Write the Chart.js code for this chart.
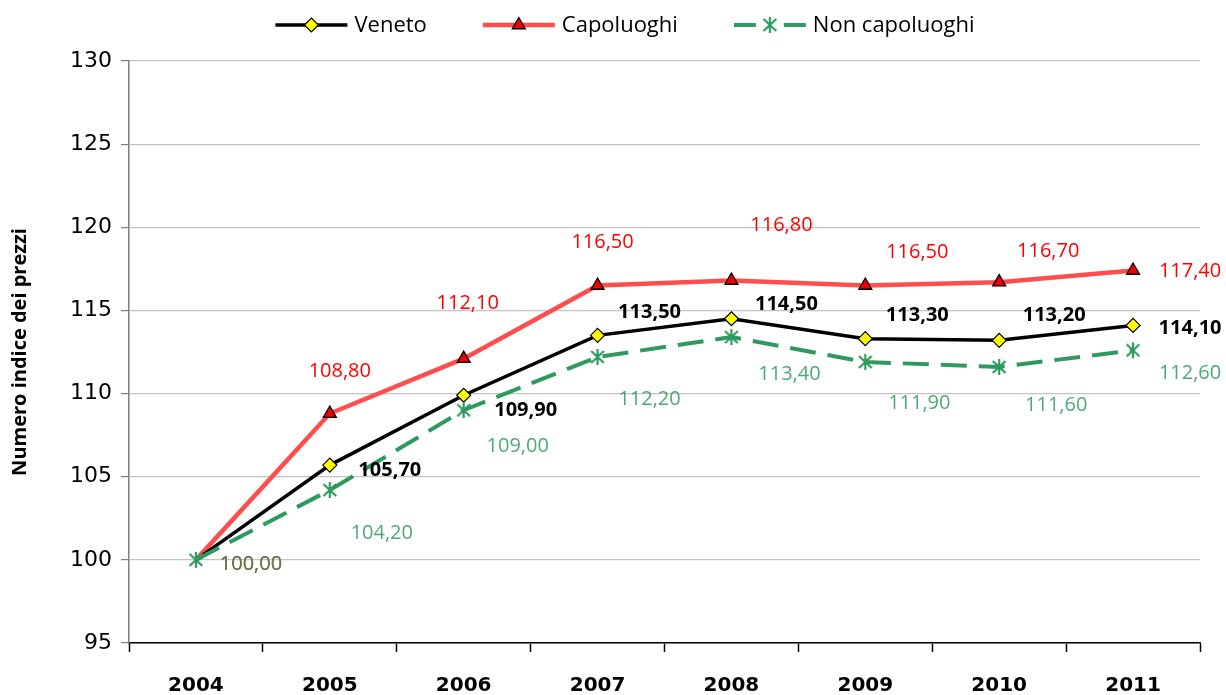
<!DOCTYPE html>
<html>
<head>
<meta charset="utf-8">
<script src="https://cdn.jsdelivr.net/npm/chart.js@4/dist/chart.umd.min.js"></script>
<style>
  html, body { margin: 0; padding: 0; background: #fff; }
  #wrap { width: 1226px; height: 695px; }
</style>
</head>
<body>
<div id="wrap"><canvas id="priceChart" width="1226" height="695"></canvas></div>
<script>
// chart data
const years = ['2004', '2005', '2006', '2007', '2008', '2009', '2010', '2011'];
const veneto = [100.0, 105.7, 109.9, 113.5, 114.5, 113.3, 113.2, 114.1];
const capoluoghi = [100.0, 108.8, 112.1, 116.5, 116.8, 116.5, 116.7, 117.4];
const nonCapoluoghi = [100.0, 104.2, 109.0, 112.2, 113.4, 111.9, 111.6, 112.6];
const yTicks = [95, 100, 105, 110, 115, 120, 125, 130];

// where each value label sits relative to its point (dx, dy), as placed in the original
const venetoLabelPos = [null, [60, 5], [62, 15], [52, -23], [55, -14], [52, -23], [55, -25], [57, 3]];
const capoLabelPos = [[55, 4], [10, -42], [4, -55], [5, -43], [50, -55], [52, -33], [49, -31], [57, 1]];
const nonCapoLabelPos = [[55, 4], [52, 43], [54, 36], [52, 42], [58, 37], [54, 41], [57, 38], [57, 23]];

const GREEN = '#2f9a5f';
const RED_LINE = '#ff4d4d';

const fmt = v => v.toFixed(2).replace('.', ',');

// asterisk marker (vertical bar + x) used for "Non capoluoghi"
function makeAsterisk(color, size) {
    const c = document.createElement('canvas');
    c.width = size;
    c.height = size;
    const g = c.getContext('2d');
    const m = size / 2, r = size / 2 - 1;
    g.strokeStyle = color;
    g.lineWidth = 2.2;
    g.beginPath();
    g.moveTo(m, m - r); g.lineTo(m, m + r);
    g.moveTo(m - r * 0.8, m - r * 0.75); g.lineTo(m + r * 0.8, m + r * 0.75);
    g.moveTo(m + r * 0.8, m - r * 0.75); g.lineTo(m - r * 0.8, m + r * 0.75);
    g.stroke();
    return c;
}
const asterisk = makeAsterisk(GREEN, 18);

// in the original the 2004 point only shows the green marker
const hideFirst = r => (c => c.dataIndex === 0 ? 0 : r);

// value labels drawn next to points
const valueLabels = {
    id: 'valueLabels',
    afterDatasetsDraw(chart) {
        const ctx = chart.ctx;
        ctx.save();
        ctx.textAlign = 'center';
        ctx.textBaseline = 'middle';
        chart.data.datasets.forEach((ds, di) => {
            const meta = chart.getDatasetMeta(di);
            meta.data.forEach((pt, i) => {
                const off = ds.labelPos[i];
                if (!off) return;
                ctx.font = ds.labelFont;
                ctx.fillStyle = ds.labelColor;
                ctx.fillText(fmt(ds.data[i]), pt.x + off[0], pt.y + off[1]);
            });
        });
        ctx.restore();
    }
};

// legend with line sample + marker, like the office chart
const lineLegend = {
    id: 'lineLegend',
    afterDraw(chart) {
        const ctx = chart.ctx;
        const sample = 72, gap = 7, itemGap = 56, cy = 25;
        ctx.save();
        ctx.font = '22px "Open Sans"';
        const sets = chart.data.datasets;
        const widths = sets.map(ds => ctx.measureText(ds.label).width);
        const total = widths.reduce((a, b) => a + b, 0) + sets.length * (sample + gap) + itemGap * (sets.length - 1);
        let x = (chart.width - total) / 2 + 12;
        sets.forEach((ds, di) => {
            ctx.strokeStyle = ds.borderColor;
            ctx.lineWidth = ds.borderWidth;
            ctx.setLineDash(ds.legendDash || []);
            ctx.beginPath();
            ctx.moveTo(x, cy);
            ctx.lineTo(x + sample, cy);
            ctx.stroke();
            ctx.setLineDash([]);
            ctx.fillStyle = ds.pointBackgroundColor;
            ctx.strokeStyle = ds.pointBorderColor;
            ctx.lineWidth = ds.pointBorderWidth;
            Chart.helpers.drawPoint(ctx, {
                pointStyle: ds.pointStyle,
                radius: ds.legendRadius,
                borderWidth: ds.pointBorderWidth,
                rotation: 0
            }, x + sample / 2, cy);
            ctx.fillStyle = '#000';
            ctx.textAlign = 'left';
            ctx.textBaseline = 'middle';
            ctx.fillText(ds.label, x + sample + gap, cy + 1);
            x += sample + gap + widths[di] + itemGap;
        });
        ctx.restore();
    }
};

const ctx = document.getElementById('priceChart');

new Chart(ctx, {
    type: 'line',
    data: {
        labels: years,
        datasets: [
            {
                label: 'Veneto',
                data: veneto,
                borderColor: '#000000',
                borderWidth: 3.5,
                pointStyle: 'rectRot',
                pointRadius: hideFirst(7),
                legendRadius: 7,
                pointBackgroundColor: '#ffff00',
                pointBorderColor: '#000000',
                pointBorderWidth: 1.2,
                labelPos: venetoLabelPos,
                labelFont: 'bold 20px "Open Sans"',
                labelColor: '#000000',
                order: 2
            },
            {
                label: 'Capoluoghi',
                data: capoluoghi,
                borderColor: RED_LINE,
                borderWidth: 4.5,
                pointStyle: 'triangle',
                pointRadius: hideFirst(7.5),
                legendRadius: 7.5,
                pointBackgroundColor: '#ee0000',
                pointBorderColor: '#000000',
                pointBorderWidth: 1.3,
                labelPos: capoLabelPos,
                labelFont: '20px "Open Sans"',
                labelColor: '#ff0000',
                order: 3
            },
            {
                label: 'Non capoluoghi',
                data: nonCapoluoghi,
                borderColor: GREEN,
                borderWidth: 4,
                borderDash: [26, 12],
                legendDash: [22, 28],
                pointStyle: asterisk,
                pointRadius: 9,
                legendRadius: 9,
                pointBackgroundColor: GREEN,
                pointBorderColor: GREEN,
                pointBorderWidth: 1,
                labelPos: nonCapoLabelPos,
                labelFont: '20px "Open Sans"',
                labelColor: 'rgba(47,154,95,0.85)',
                order: 1
            }
        ]
    },
    options: {
        responsive: false,
        animation: false,
        layout: { padding: { top: 61, right: 26, left: 0, bottom: 0 } },
        elements: { line: { tension: 0 } },
        plugins: {
            legend: { display: false },
            tooltip: { enabled: false }
        },
        scales: {
            x: {
                offset: true,
                grid: {
                    offset: true,
                    drawOnChartArea: false,
                    drawTicks: true,
                    tickLength: 9,
                    tickColor: '#000000',
                    tickWidth: 1.5
                },
                border: { color: '#000000', width: 1.5 },
                ticks: {
                    color: '#000000',
                    padding: 22,
                    font: { family: 'DejaVu Sans', weight: 'bold', size: 20 }
                },
                afterFit: scale => { scale.height = 52; }
            },
            y: {
                min: 95,
                max: 130,
                afterBuildTicks: scale => { scale.ticks = yTicks.map(v => ({ value: v })); },
                grid: {
                    color: '#c4c4c4',
                    lineWidth: 1.2,
                    tickLength: 8,
                    tickColor: '#7f7f7f'
                },
                border: { color: '#7f7f7f', width: 1.5 },
                ticks: {
                    color: '#000000',
                    padding: 9,
                    font: { family: 'DejaVu Sans', size: 22 }
                },
                title: {
                    display: true,
                    text: 'Numero indice dei prezzi',
                    color: '#000000',
                    padding: { top: 8, bottom: 0 },
                    font: { family: 'Open Sans', weight: 'bold', size: 20 }
                },
                afterFit: scale => { scale.width = 129; }
            }
        }
    },
    plugins: [valueLabels, lineLegend]
});
</script>
</body>
</html>
